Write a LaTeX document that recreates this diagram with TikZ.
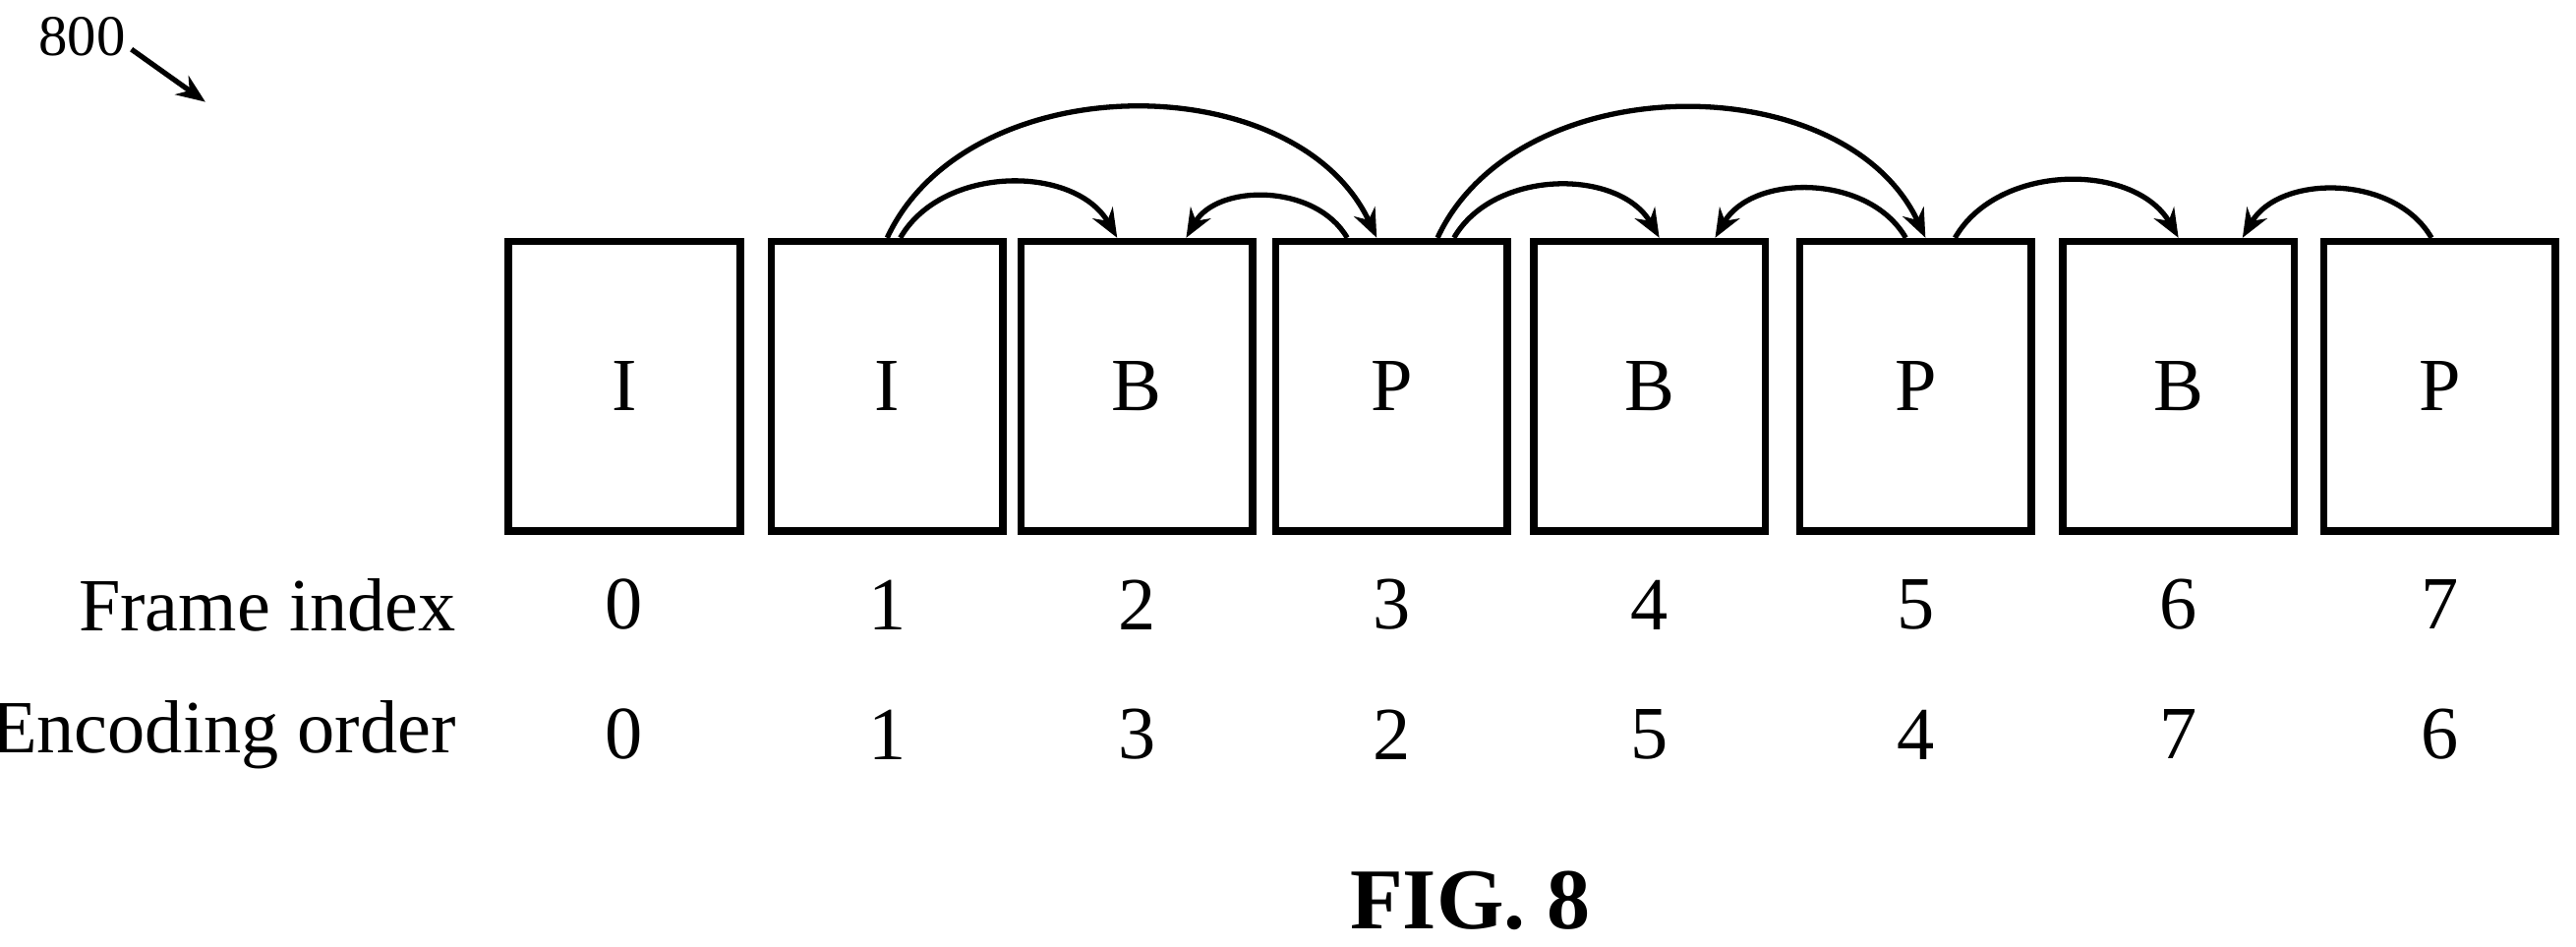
\documentclass[tikz,border=0pt]{standalone}
\usepackage{fontspec}
\setmainfont{Liberation Serif}
\usetikzlibrary{positioning,arrows.meta}
\tikzset{
  frame/.style={draw, line width=1.3pt, minimum width=1.41cm, minimum height=1.76cm, inner sep=0pt, font=\fontsize{13}{15}\selectfont},
  num/.style={font=\fontsize{13}{15}\selectfont},
  ref/.style={-{Stealth[length=5pt,width=4pt]}, line width=0.9pt},
}
\begin{document}
\begin{tikzpicture}
  \useasboundingbox (0,0) rectangle (15.68,5.76);
  % reference numeral
  \node (fig) at (0.50,5.54) {\fontsize{10}{12}\selectfont 800};
  \coordinate (figtip) at (1.25,5.14);
  \draw[ref] (0.80,5.46) -- (figtip);

  % frames
  \node[frame] (f0) at (3.80,3.41) {I};
  \node[frame] (f1) at (5.40,3.41) {I};
  \node[frame] (f2) at (6.92,3.41) {B};
  \node[frame] (f3) at (8.47,3.41) {P};
  \node[frame] (f4) at (10.04,3.41) {B};
  \node[frame] (f5) at (11.66,3.41) {P};
  \node[frame] (f6) at (13.26,3.41) {B};
  \node[frame] (f7) at (14.85,3.41) {P};

  % rows
  \node[num, anchor=east] (lidx) at (2.90,2.08) {Frame index};
  \node[num, anchor=east] (lenc) at (2.90,1.29) {Encoding order};
  \foreach \i/\e in {0/0,1/1,2/3,3/2,4/5,5/4,6/7,7/6} {
    \node[num] (idx\i) at (f\i |- lidx) {\i};
    \node[num] (enc\i) at (f\i |- lenc) {\e};
  }

  % references
  \draw[ref] (f1.north) to[out=65,in=115] ([xshift=-0.09cm]f3.north);
  \draw[ref] ([xshift=0.08cm]f1.north) to[out=60,in=120] ([xshift=-0.12cm]f2.north);
  \draw[ref] ([xshift=-0.27cm]f3.north) to[out=120,in=60] ([xshift=0.30cm]f2.north);
  \draw[ref] ([xshift=0.28cm]f3.north) to[out=65,in=115] ([xshift=0.06cm]f5.north);
  \draw[ref] ([xshift=0.38cm]f3.north) to[out=60,in=120] ([xshift=0.06cm]f4.north);
  \draw[ref] ([xshift=-0.06cm]f5.north) to[out=120,in=60] ([xshift=0.40cm]f4.north);
  \draw[ref] ([xshift=0.24cm]f5.north) to[out=60,in=120] (f6.north);
  \draw[ref] ([xshift=-0.05cm]f7.north) to[out=120,in=60] ([xshift=0.39cm]f6.north);

  \node[font=\bfseries\fontsize{15}{17}\selectfont] (cap) at (8.95,0.28) {FIG. 8};
\end{tikzpicture}
\end{document}
